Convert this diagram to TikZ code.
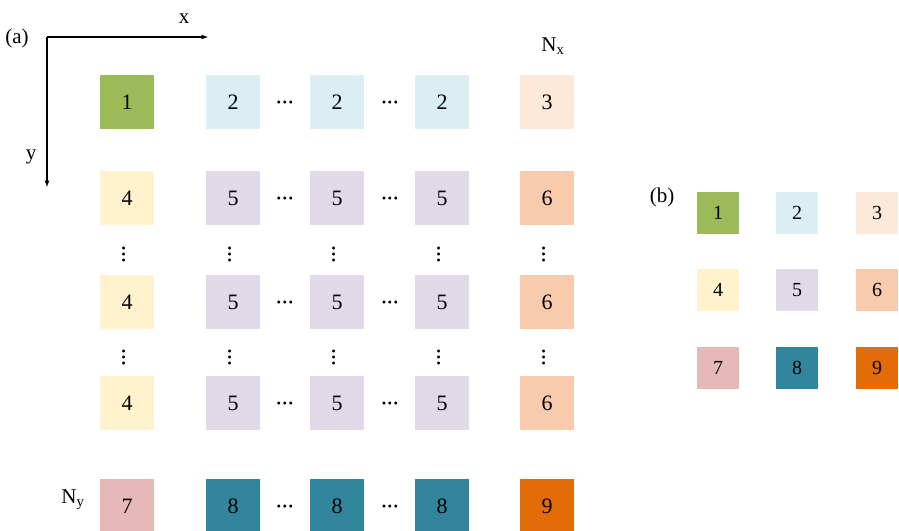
\documentclass[tikz,border=0pt]{standalone}
\usepackage{fontspec}
\setmainfont{Liberation Serif}
\definecolor{c1}{HTML}{9BBB59}
\definecolor{c2}{HTML}{DAEEF3}
\definecolor{c3}{HTML}{FDE9D9}
\definecolor{c4}{HTML}{FFF2CC}
\definecolor{c5}{HTML}{E0DAE8}
\definecolor{c6}{HTML}{F9CBAD}
\definecolor{c7}{HTML}{E6B9B8}
\definecolor{c8}{HTML}{31859C}
\definecolor{c9}{HTML}{E36C09}
\begin{document}
\begin{tikzpicture}[x=1pt,y=-1pt,
  sq/.style={minimum size=54pt,inner sep=0pt,font=\fontsize{22}{22}\selectfont},
  sb/.style={minimum size=42pt,inner sep=0pt,font=\fontsize{20}{20}\selectfont},
  lab/.style={font=\fontsize{21}{21}\selectfont,inner sep=0pt},
  dots/.style={font=\fontsize{18}{18}\selectfont\bfseries,inner sep=0pt,text height=5pt,text depth=0pt}]
\useasboundingbox (0,0) rectangle (899,530);
% axes
\coordinate (o) at (47,37);
\coordinate (xe) at (208,37);
\coordinate (ye) at (47,187);
\draw[line width=1.2pt,-latex] (o) -- (xe);
\draw[line width=1.2pt,-latex] (o) -- (ye);
\node[lab] (xl) at (184,19) {x};
\node[lab] (yl) at (31,157) {y};
\node[lab] (a) at (17,38) {(a)};
\node[lab] (nx) at (553,46) {N\textsubscript{x}};
\node[lab] (ny) at (73,500) {N\textsubscript{y}};
\node[lab] (b) at (662,197) {(b)};
% grid
\foreach \r/\y/\a/\b/\c in {1/102/1/2/3,2/198/4/5/6,3/302/4/5/6,4/403/4/5/6,5/506/7/8/9}{
  \node[sq,fill=c\a] (g\r-1) at (127,\y) {\a};
  \node[sq,fill=c\b] (g\r-2) at (233,\y) {\b};
  \node[sq,fill=c\b] (g\r-3) at (337,\y) {\b};
  \node[sq,fill=c\b] (g\r-4) at (442,\y) {\b};
  \node[sq,fill=c\c] (g\r-5) at (547,\y) {\c};
  \node[dots,yshift=-4pt] (h\r-1) at (285,\y) {···};
  \node[dots,yshift=-4pt] (h\r-2) at (390,\y) {···};
}
\foreach \y [count=\k] in {250,353}{
  \foreach \x [count=\j] in {127,233,337,442,547}{
    \node[dots,rotate=90,xshift=-4pt] (v\k-\j) at (\x,\y) {···};
  }
}
% panel b
\foreach \n/\x/\y in {1/718/213,2/797/213,3/877/213,4/718/290,5/797/290,6/877/290,7/718/368,8/797/368,9/877/368}{
  \node[sb,fill=c\n] (b\n) at (\x,\y) {\n};
}
\end{tikzpicture}
\end{document}
